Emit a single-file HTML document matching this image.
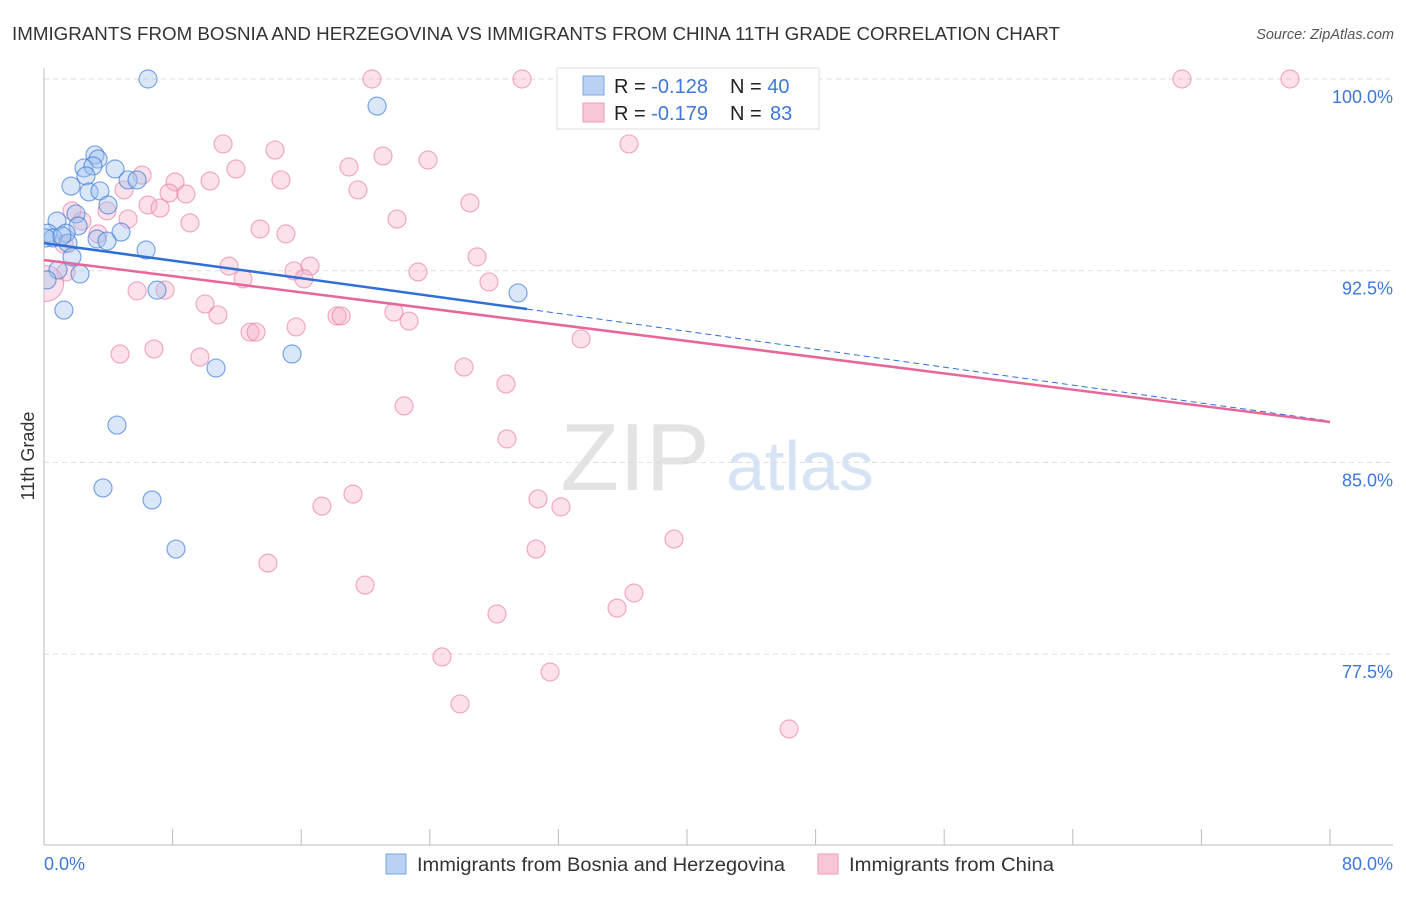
<!DOCTYPE html>
<html><head><meta charset="utf-8"><style>
body{margin:0;background:#fff;font-family:"Liberation Sans",sans-serif;}
svg text{font-family:"Liberation Sans",sans-serif;}
</style></head><body>
<svg id="chart" width="1406" height="892" xmlns="http://www.w3.org/2000/svg">
<defs><clipPath id="plotclip"><rect x="44" y="60" width="1360" height="785"/></clipPath></defs>
<text x="12" y="40" font-size="18" fill="#333" textLength="1048" lengthAdjust="spacingAndGlyphs">IMMIGRANTS FROM BOSNIA AND HERZEGOVINA VS IMMIGRANTS FROM CHINA 11TH GRADE CORRELATION CHART</text>
<text x="1394" y="39" font-size="14.5" fill="#555" text-anchor="end" font-style="italic">Source: ZipAtlas.com</text>
<text transform="translate(34,456) rotate(-90)" font-size="18" fill="#333" text-anchor="middle">11th Grade</text>
<g>
<text x="635" y="490" font-size="96" fill="#e3e3e3" text-anchor="middle" font-family="Liberation Serif,serif">ZIP</text>
<text x="800" y="490" font-size="70" fill="#d5e3f5" text-anchor="middle">atlas</text>
</g>
<g id="grid"></g><g id="axes"></g><g id="pts" clip-path="url(#plotclip)"></g><g id="trend"></g>
<g>
<rect x="557" y="68" width="262" height="61" fill="#fff" stroke="#ddd"/>
<rect x="583" y="76" width="21" height="19" fill="#b9d1f3" stroke="#7aa6e6"/>
<rect x="583" y="103" width="21" height="19" fill="#f9c6d6" stroke="#ef9ab5"/>
<text x="614" y="93" font-size="20" fill="#222">R = <tspan fill="#3d78d8">-0.128</tspan><tspan x="730">N = </tspan><tspan fill="#3d78d8">40</tspan></text>
<text x="614" y="120" font-size="20" fill="#222">R = <tspan fill="#3d78d8">-0.179</tspan><tspan x="730">N = </tspan><tspan fill="#3d78d8" x="770">83</tspan></text>
</g>
<g>
<rect x="386" y="854" width="20" height="20" fill="#b9d1f3" stroke="#7aa6e6"/>
<text x="417" y="871" font-size="19" fill="#333" textLength="368" lengthAdjust="spacingAndGlyphs">Immigrants from Bosnia and Herzegovina</text>
<rect x="818" y="854" width="20" height="20" fill="#f9c6d6" stroke="#ef9ab5"/>
<text x="849" y="871" font-size="19" fill="#333" textLength="205" lengthAdjust="spacingAndGlyphs">Immigrants from China</text>
</g>
</svg>
<script>
const yTicks=[100,92.5,85,77.5];
const yTickLabels=["100.0%","92.5%","85.0%","77.5%"];
const xTicks=[0,8,16,24,32,40,48,56,64,72,80];
const xEndLabels=["0.0%","80.0%"];
const bosniaX=[6.47,20.72,3.17,3.36,2.49,3.05,4.42,2.61,5.23,5.79,1.68,2.80,3.48,3.98,1.99,0.81,2.12,4.79,0.25,1.37,0.56,3.30,3.92,1.49,6.35,1.74,0.87,2.24,0.19,7.03,29.49,1.24,15.43,10.70,4.54,3.67,6.72,8.21,0.12,1.12];
const bosniaY=[100,98.94,97.03,96.87,96.52,96.60,96.48,96.21,96.05,96.05,95.81,95.58,95.62,95.07,94.72,94.44,94.25,94.01,93.97,93.97,93.78,93.74,93.66,93.58,93.31,93.04,92.53,92.37,92.14,91.74,91.63,90.96,89.24,88.69,86.46,84.0,83.53,81.61,93.78,93.86];
const chinaX=[20.40,29.74,32.97,70.79,77.51,11.14,36.39,14.37,21.09,23.89,6.10,11.94,18.97,14.74,10.33,8.15,4.98,7.78,8.83,19.53,6.47,7.22,26.50,1.74,3.92,5.23,2.36,21.96,9.08,13.44,15.05,3.36,1.24,11.51,26.94,15.55,16.55,23.27,12.38,16.17,27.68,5.79,7.53,10.02,10.82,18.23,18.48,21.77,22.71,15.68,12.82,13.19,33.41,4.73,6.84,9.70,26.13,28.74,22.40,28.80,19.22,17.29,30.73,32.16,39.19,30.61,13.93,19.97,36.70,35.65,28.18,24.76,31.48,25.88,46.35,1.37,0.1];
const chinaY=[100,100,100,100,100,97.46,97.46,97.22,96.99,96.83,96.24,96.48,96.56,96.05,96.01,95.97,95.66,95.54,95.50,95.66,95.07,94.95,95.15,94.84,94.84,94.52,94.44,94.52,94.37,94.13,93.94,93.94,93.54,92.68,93.04,92.49,92.68,92.45,92.18,92.18,92.06,91.71,91.74,91.20,90.77,90.73,90.73,90.88,90.53,90.30,90.10,90.10,89.83,89.24,89.44,89.12,88.73,88.07,87.21,85.92,83.76,83.29,83.57,83.26,82.00,81.61,81.06,80.20,79.89,79.30,79.07,77.39,76.80,75.55,74.57,92.45,92.0];
const bosniaTrend=[93.58,91.0,86.62];
const bosniaTrendX=[0,30.05,80];
const chinaTrend=[92.92,86.58];
const chinaTrendX=[0,80];

const NS="http://www.w3.org/2000/svg";
const X=v=>44+v*16.075;
const Y=v=>79+(100-v)*25.56;
function mk(tag,attrs,parent){const e=document.createElementNS(NS,tag);for(const k in attrs)e.setAttribute(k,attrs[k]);document.getElementById(parent).appendChild(e);return e;}

yTicks.forEach((t,i)=>{
  const l=mk('line',{x1:44,x2:1393,y1:Y(t),y2:Y(t),stroke:'#ddd','stroke-dasharray':'5,4'},'grid');
  
  
  const tx=mk('text',{x:1393,y:Y(t)+24,'font-size':18,fill:'#3d78d8','text-anchor':'end'},'grid');
  tx.textContent=yTickLabels[i];
  
  
});
const ax=mk('line',{x1:44,x2:44,y1:68,y2:845,stroke:'#bbb'},'axes');


const bx=mk('line',{x1:44,x2:1393,y1:845,y2:845,stroke:'#bbb'},'axes');


xTicks.forEach(t=>{
  const l=mk('line',{x1:X(t),x2:X(t),y1:829,y2:845,stroke:'#bbb'},'axes');
  
  
});
const xl0=mk('text',{x:44,y:870,'font-size':18,fill:'#3d78d8'},'axes');xl0.textContent=xEndLabels[0];


const xl1=mk('text',{x:1393,y:870,'font-size':18,fill:'#3d78d8','text-anchor':'end'},'axes');xl1.textContent=xEndLabels[1];



chinaX.forEach((x,i)=>{
  const big=(i===chinaX.length-1);
  const c=mk('circle',{cx:X(x),cy:Y(chinaY[i]),r:big?18:9,fill:'rgba(246,170,195,0.35)',stroke:'rgba(232,120,160,0.6)','stroke-width':1.2},'pts');
  
  
});
bosniaX.forEach((x,i)=>{
  const c=mk('circle',{cx:X(x),cy:Y(bosniaY[i]),r:9,fill:'rgba(160,195,240,0.4)',stroke:'rgba(60,120,215,0.65)','stroke-width':1.2},'pts');
  
  
});
const b1=mk('line',{x1:X(bosniaTrendX[0]),y1:Y(bosniaTrend[0]),x2:X(bosniaTrendX[1]),y2:Y(bosniaTrend[1]),stroke:'#2f6fd6','stroke-width':2.5},'trend');


const b2=mk('line',{x1:X(bosniaTrendX[1]),y1:Y(bosniaTrend[1]),x2:X(bosniaTrendX[2]),y2:Y(bosniaTrend[2]),stroke:'#2f6fd6','stroke-width':1,'stroke-dasharray':'6,4'},'trend');


const c1=mk('line',{x1:X(chinaTrendX[0]),y1:Y(chinaTrend[0]),x2:X(chinaTrendX[1]),y2:Y(chinaTrend[1]),stroke:'#e8679a','stroke-width':2.5},'trend');


</script>
</body></html>
